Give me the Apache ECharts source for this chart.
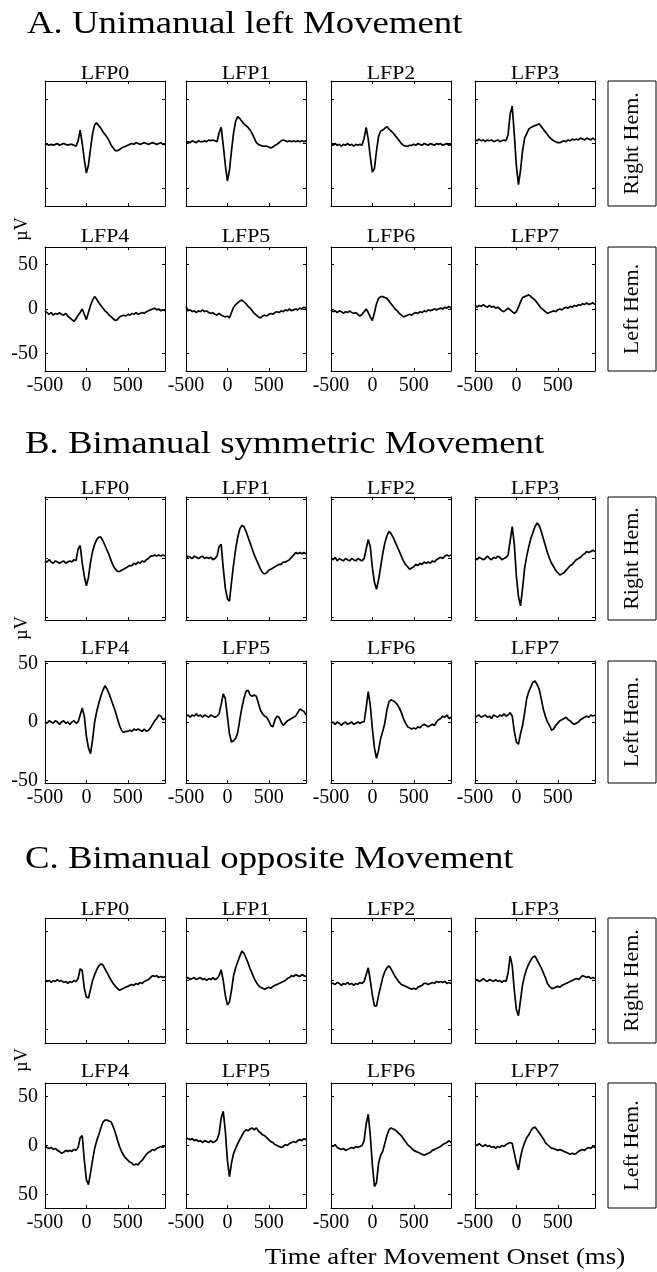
<!DOCTYPE html>
<html>
<head>
<meta charset="utf-8">
<title>LFP responses</title>
<script src="https://cdn.jsdelivr.net/npm/echarts@6/dist/echarts.min.js"></script>
<style>
  html, body { margin: 0; padding: 0; background: #fff; }
  #chart { width: 657px; height: 1272px; }
</style>
</head>
<body>
<div id="chart"></div>
<script>
// time after movement onset (ms), one sample every 25 ms
const times = [-500,-475,-450,-425,-400,-375,-350,-325,-300,-275,-250,-225,-200,-175,-150,-125,
  -100,-75,-50,-25,0,25,50,75,100,125,150,175,200,225,250,275,300,325,350,375,
  400,425,450,475,500,525,550,575,600,625,650,675,700,725,750,775,800,825,850,875,900,925,950];

const xTicks = [-500, 0, 500];
const xTickLabels = ['-500', '0', '500'];
const yTicks = [-50, 0, 50];
const yTickLabelsA = ['-50', '0', '50'];
const yTickLabelsB = ['-50', '0', '50'];
const yTickLabelsC = ['50', '0', '50']; // as printed in the figure
const channelNames = ['LFP0', 'LFP1', 'LFP2', 'LFP3', 'LFP4', 'LFP5', 'LFP6', 'LFP7'];
const hemLabels = ['Right Hem.', 'Left Hem.'];
const unitLabel = 'µV';
const xAxisTitle = 'Time after Movement Onset (ms)';

// A. Unimanual left movement (µV)
const uniLfp0 = [0,-1,-2,-1,-2,-1,0,-2,-1,0,-1,-2,-1,-1,-2,-3,
  3,15,0,-18,-33,-24,-6,11,21,23,20,17,13,10,7,3,-2,-5,-8,-8,
  -7,-5,-4,-3,-2,-1,0,-1,1,0,-1,0,1,0,-1,0,1,0,-1,0,1,-1,-1];
const uniLfp1 = [1,2,1,3,2,1,3,2,2,3,2,4,3,4,3,2,
  12,18,-2,-24,-42,-30,-8,12,25,30,28,25,22,20,18,15,11,6,1,-1,
  -2,-3,-3,-3,-4,-5,-4,-2,-1,1,3,4,3,2,3,2,3,2,3,2,3,2,3];
const uniLfp2 = [-1,-2,0,-2,-1,-3,-1,-2,0,-2,-1,-3,-1,-2,-1,-2,
  6,18,5,-15,-32,-28,-8,8,14,15,17,19,16,14,12,9,6,3,0,-2,
  -3,-3,-2,-2,-1,-2,0,-1,-2,0,-1,-2,0,-1,-2,0,-1,0,-2,-1,0,-2,-1];
const uniLfp3 = [4,3,5,3,4,2,4,3,4,2,3,4,2,3,4,3,
  10,33,42,10,-25,-46,-30,-8,6,11,16,18,19,20,21,22,19,16,13,10,
  7,5,3,2,1,1,2,3,2,4,3,5,4,5,4,6,5,4,6,5,4,6,4];
const uniLfp4 = [-2,-4,-6,-4,-7,-5,-6,-4,-6,-7,-5,-8,-10,-12,-14,-11,
  -7,-4,0,-6,-12,-4,4,10,14,11,7,4,1,-2,-4,-7,-9,-11,-13,-12,
  -9,-8,-7,-8,-6,-7,-5,-6,-4,-6,-5,-4,-5,-3,-2,-1,0,1,-1,0,-2,-1,-2];
const uniLfp5 = [3,-2,-1,-3,-2,-4,-2,-3,-1,-3,-2,-4,-5,-4,-6,-7,
  -5,-7,-8,-9,-8,-10,-4,2,5,7,9,10,8,6,3,1,-2,-5,-7,-9,
  -10,-8,-7,-8,-6,-5,-6,-4,-3,-4,-2,-3,-1,-2,0,-2,-1,0,-1,1,0,2,1];
const uniLfp6 = [-1,-3,-2,-4,-2,-3,-5,-3,-4,-2,-4,-5,-4,-6,-8,-6,
  -3,0,-4,-9,-13,-4,6,12,14,14,13,12,9,6,3,0,-2,-5,-7,-9,
  -8,-7,-6,-7,-5,-4,-5,-3,-4,-2,-3,-1,-2,-1,0,-1,0,1,0,2,1,3,1];
const uniLfp7 = [4,2,4,3,5,3,2,4,2,3,1,2,0,-2,-3,-1,
  1,-1,-3,-5,-3,2,8,13,14,15,16,14,12,10,7,4,1,-1,-3,-5,
  -4,-3,-2,-3,-1,0,-1,1,2,1,3,2,4,3,5,4,6,5,7,5,6,7,5];

// B. Bimanual symmetric movement (µV)
const symLfp0 = [-2,-3,-1,-3,-4,-2,-3,-4,-3,-2,-4,-3,-2,-3,-1,-2,
  8,11,-4,-15,-23,-16,-3,6,12,16,18,18,15,11,7,3,-2,-6,-9,-11,
  -11,-10,-9,-8,-7,-6,-6,-4,-5,-3,-4,-2,-3,-1,0,2,2,3,2,3,2,3,2];
const symLfp1 = [0,2,1,0,2,1,0,1,2,0,1,0,1,-1,0,2,
  10,12,-8,-25,-34,-36,-20,-5,8,18,25,28,27,23,18,13,8,3,-1,-5,
  -9,-12,-13,-12,-10,-9,-8,-7,-6,-5,-5,-3,-3,-2,-1,1,3,5,4,5,4,5,4];
const symLfp2 = [0,-1,1,-2,0,-1,-2,0,-1,-2,0,-1,-2,0,-1,-2,
  0,8,16,10,-8,-20,-26,-18,-7,4,13,19,23,21,18,14,10,6,2,-2,
  -5,-7,-9,-8,-7,-5,-6,-4,-5,-3,-4,-3,-4,-2,-3,-1,0,1,0,2,3,2,3];
const symLfp3 = [0,-1,1,0,-1,0,2,0,-1,1,0,2,1,-1,0,1,
  3,15,27,12,-15,-32,-40,-25,-8,2,10,17,22,27,30,28,23,17,11,5,
  0,-4,-7,-10,-12,-14,-13,-12,-10,-8,-6,-5,-3,-1,0,1,3,4,6,5,6,7,6];
const symLfp4 = [0,-1,1,0,-1,1,0,-2,0,1,-1,0,-2,0,1,-1,
  0,6,12,5,-12,-22,-27,-15,0,9,16,22,27,31,28,24,19,14,9,3,
  -3,-7,-9,-8,-8,-7,-8,-6,-7,-6,-7,-8,-6,-8,-7,-5,-2,1,3,6,5,2,3];
const symLfp5 = [5,6,4,6,5,7,5,6,4,6,5,4,6,5,4,5,
  7,15,24,20,5,-10,-17,-16,-14,-9,2,12,20,26,27,23,22,23,22,16,
  10,7,5,4,1,-3,-4,2,5,4,0,-3,-1,1,2,3,4,5,8,11,10,9,6];
const symLfp6 = [-1,0,-2,0,-1,-3,-1,0,-2,-1,0,-2,-1,0,-1,0,
  0,12,26,14,-6,-22,-31,-24,-14,-8,-1,10,17,19,18,17,15,12,8,3,
  -1,-4,-5,-6,-5,-6,-4,-5,-3,-2,-3,-4,-3,-2,-3,0,2,3,5,4,6,3,4];
const symLfp7 = [4,5,6,4,5,6,4,5,3,6,5,4,6,5,7,5,
  6,8,5,-8,-17,-19,-10,-3,8,20,26,30,34,35,32,28,20,11,5,0,
  -3,-7,-6,-3,-1,1,2,3,4,2,1,-1,-2,-1,0,2,3,4,5,4,6,5,6];

// C. Bimanual opposite movement (µV)
const oppLfp0 = [0,-1,0,-2,0,-1,1,-1,0,-2,-1,-3,-1,-2,0,-1,
  2,12,10,-8,-17,-18,-9,0,6,11,15,17,16,12,8,4,0,-3,-6,-8,
  -10,-9,-8,-7,-6,-5,-4,-5,-3,-4,-2,-3,-1,0,1,3,5,4,5,3,4,3,4];
const oppLfp1 = [2,3,1,2,3,1,2,3,1,2,0,2,1,3,1,2,
  5,11,0,-15,-25,-22,-10,5,13,19,25,30,28,23,18,12,7,2,-2,-5,
  -7,-8,-9,-8,-7,-8,-6,-5,-4,-3,-2,-1,0,2,3,5,4,6,5,4,6,5,4];
const oppLfp2 = [-2,-3,-4,-2,-3,-5,-3,-4,-2,-4,-3,-5,-3,-4,-2,-3,
  -1,6,13,0,-15,-26,-26,-15,-6,3,9,13,15,12,8,4,1,-2,-4,-5,
  -6,-7,-8,-9,-8,-9,-7,-6,-5,-3,-3,-4,-3,-2,-3,-1,-2,-1,-2,-1,-3,-2,-3];
const oppLfp3 = [0,1,-1,0,2,0,-1,1,0,-1,1,-1,0,-2,0,-1,
  8,25,15,-10,-30,-36,-20,-4,5,12,17,21,24,25,21,17,13,8,3,-3,
  -6,-8,-8,-7,-6,-7,-5,-4,-3,-2,-1,0,1,2,1,3,5,4,3,4,2,3,2];
const oppLfp4 = [-1,-2,-3,-2,-4,-3,-5,-6,-8,-7,-5,-6,-5,-6,-4,-5,
  -2,8,10,-15,-35,-40,-28,-15,-3,5,11,18,24,26,26,25,24,19,13,6,
  -1,-6,-10,-13,-15,-17,-18,-20,-19,-20,-17,-15,-12,-9,-7,-6,-4,-5,-3,-2,-1,-2,0];
const oppLfp5 = [8,7,6,7,5,6,4,5,3,5,4,3,5,3,4,6,
  12,28,35,15,-15,-32,-18,-8,-3,2,6,10,14,16,15,17,18,16,18,15,
  13,11,10,8,6,4,3,1,0,-1,-2,-1,1,0,2,3,4,3,5,6,5,7,6];
const oppLfp6 = [0,-1,1,-2,-3,-4,-3,-5,-4,-3,-2,-3,-1,-2,-1,0,
  5,22,32,10,-20,-42,-38,-18,-10,-6,2,10,16,18,17,16,14,12,10,7,
  4,1,-1,-3,-5,-6,-7,-8,-9,-10,-9,-8,-7,-5,-4,-3,-2,-1,1,2,3,5,3];
const oppLfp7 = [1,0,2,0,-1,1,-1,0,-2,-1,-3,-1,-2,0,-1,1,
  2,3,2,-8,-18,-25,-12,-3,3,8,11,15,18,19,16,13,10,7,3,1,
  -1,-3,-3,-4,-5,-4,-5,-6,-7,-8,-9,-8,-9,-8,-6,-5,-4,-5,-3,-2,-3,-1,-2];

// page layout (px)
const colLeft = [45, 186, 331, 475];
const panelW = 120;
const hemBoxLeft = 608, hemBoxW = 48;
const serif = '"Liberation Serif", "Times New Roman", serif';

const sections = [
  {
    title: 'A. Unimanual left Movement', titleX: 27, titleY: 25,
    yMin: -70, yMax: 70, yLabels: yTickLabelsA, unitY: 229,
    rows: [{ top: 81, h: 125, labelY: 74 }, { top: 247, h: 124, labelY: 237 }],
    data: [uniLfp0, uniLfp1, uniLfp2, uniLfp3, uniLfp4, uniLfp5, uniLfp6, uniLfp7]
  },
  {
    title: 'B. Bimanual symmetric Movement', titleX: 25, titleY: 445,
    yMin: -52, yMax: 52, yLabels: yTickLabelsB, unitY: 628,
    rows: [{ top: 497, h: 123, labelY: 489 }, { top: 661, h: 122, labelY: 649 }],
    data: [symLfp0, symLfp1, symLfp2, symLfp3, symLfp4, symLfp5, symLfp6, symLfp7]
  },
  {
    title: 'C. Bimanual opposite Movement', titleX: 25, titleY: 860,
    yMin: -64, yMax: 64, yLabels: yTickLabelsC, unitY: 1060,
    rows: [{ top: 918, h: 125, labelY: 910 }, { top: 1083, h: 125, labelY: 1072 }],
    data: [oppLfp0, oppLfp1, oppLfp2, oppLfp3, oppLfp4, oppLfp5, oppLfp6, oppLfp7]
  }
];

const grid = [], xAxis = [], yAxis = [], series = [], graphic = [];

function makeX(gi, pos, showLabel) {
  return {
    type: 'value', gridIndex: gi, position: pos, min: -500, max: 950,
    axisLine: { show: true, onZero: false, lineStyle: { color: '#000', width: 1 } },
    axisTick: { show: true, inside: true, length: 3, customValues: xTicks, lineStyle: { color: '#000' } },
    axisLabel: {
      show: showLabel, customValues: xTicks, margin: 5, color: '#000',
      fontFamily: serif, fontSize: 20,
      formatter: v => xTickLabels[xTicks.indexOf(v)]
    },
    splitLine: { show: false }
  };
}

function makeY(gi, pos, sec, showLabel) {
  return {
    type: 'value', gridIndex: gi, position: pos, min: sec.yMin, max: sec.yMax,
    axisLine: { show: true, onZero: false, lineStyle: { color: '#000', width: 1 } },
    axisTick: { show: true, inside: true, length: 3, customValues: yTicks, lineStyle: { color: '#000' } },
    axisLabel: {
      show: showLabel, customValues: yTicks, margin: 7, color: '#000',
      fontFamily: serif, fontSize: 20,
      formatter: v => sec.yLabels[yTicks.indexOf(v)]
    },
    splitLine: { show: false }
  };
}

sections.forEach(sec => {
  graphic.push({
    type: 'text', x: sec.titleX, y: sec.titleY, scaleX: 1.15,
    style: { text: sec.title, font: '32px ' + serif, fill: '#000', align: 'left', verticalAlign: 'middle' }
  });
  graphic.push({
    type: 'text', x: 22, y: sec.unitY, rotation: Math.PI / 2,
    style: { text: unitLabel, font: '18px ' + serif, fill: '#000', align: 'center', verticalAlign: 'middle' }
  });
  sec.rows.forEach((row, r) => {
    for (let c = 0; c < 4; c++) {
      const ch = r * 4 + c;
      const gi = grid.length;
      grid.push({ left: colLeft[c], top: row.top, width: panelW, height: row.h, containLabel: false });
      xAxis.push(makeX(gi, 'bottom', r === 1));
      xAxis.push(makeX(gi, 'top', false));
      yAxis.push(makeY(gi, 'left', sec, r === 1 && c === 0));
      yAxis.push(makeY(gi, 'right', sec, false));
      series.push({
        type: 'line', xAxisIndex: gi * 2, yAxisIndex: gi * 2,
        data: times.map((t, i) => [t, sec.data[ch][i]]),
        showSymbol: false, symbol: 'none', clip: true,
        lineStyle: { color: '#000', width: 1.7 }
      });
      graphic.push({
        type: 'text', x: colLeft[c] + panelW / 2, y: row.labelY, scaleX: 1.15,
        style: { text: channelNames[ch], font: '19px ' + serif, fill: '#000', align: 'center', verticalAlign: 'middle' }
      });
    }
    graphic.push({
      type: 'rect', shape: { x: hemBoxLeft, y: row.top, width: hemBoxW, height: row.h },
      style: { fill: 'none', stroke: '#000', lineWidth: 1 }
    });
    graphic.push({
      type: 'text', x: hemBoxLeft + hemBoxW / 2 + 1, y: row.top + row.h / 2, rotation: Math.PI / 2, scaleX: 1.1,
      style: { text: hemLabels[r], font: '20px ' + serif, fill: '#000', align: 'center', verticalAlign: 'middle' }
    });
  });
});

graphic.push({
  type: 'text', x: 445, y: 1258, scaleX: 1.12,
  style: { text: xAxisTitle, font: '24px ' + serif, fill: '#000', align: 'center', verticalAlign: 'middle' }
});

const myChart = echarts.init(document.getElementById('chart'));
myChart.setOption({
  backgroundColor: '#fff',
  animation: false,
  grid: grid,
  xAxis: xAxis,
  yAxis: yAxis,
  series: series,
  graphic: graphic
});
</script>
</body>
</html>
